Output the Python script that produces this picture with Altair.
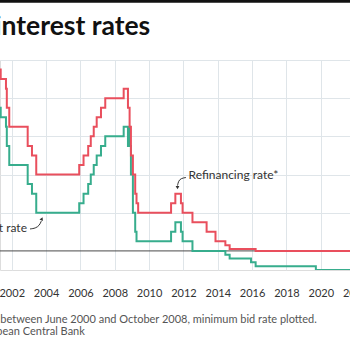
import altair as alt
import pandas as pd

# ECB policy rate changes (date, main refinancing / min bid rate, deposit facility rate)
dates = [
    "1999-01-01", "1999-04-09", "1999-11-05", "2000-02-04", "2000-03-17", "2000-04-28",
    "2000-06-09", "2000-09-01", "2000-10-06", "2001-05-11", "2001-08-31", "2001-09-18",
    "2001-11-09", "2002-12-06", "2003-03-07", "2003-06-06", "2005-12-06", "2006-03-08",
    "2006-06-15", "2006-08-09", "2006-10-11", "2006-12-13", "2007-03-14", "2007-06-13",
    "2008-07-09", "2008-10-08", "2008-10-09", "2008-11-12", "2008-12-10", "2009-01-21",
    "2009-03-11", "2009-04-08", "2009-05-13", "2011-04-13", "2011-07-13", "2011-11-09",
    "2011-12-14", "2012-07-11", "2013-05-08", "2013-11-13", "2014-06-11", "2014-09-10",
    "2015-12-09", "2016-03-16", "2019-09-18", "2022-07-27", "2022-09-14",
]
refi = [
    3.00, 2.50, 3.00, 3.25, 3.50, 3.75,
    4.25, 4.50, 4.75, 4.50, 4.25, 3.75,
    3.25, 2.75, 2.50, 2.00, 2.25, 2.50,
    2.75, 3.00, 3.25, 3.50, 3.75, 4.00,
    4.25, 3.75, 3.75, 3.25, 2.50, 2.00,
    1.50, 1.25, 1.00, 1.25, 1.50, 1.25,
    1.00, 0.75, 0.50, 0.25, 0.15, 0.05,
    0.05, 0.00, 0.00, 0.50, 1.25,
]
deposit = [
    2.00, 1.50, 2.00, 2.25, 2.50, 2.75,
    3.25, 3.50, 3.75, 3.50, 3.25, 2.75,
    2.25, 1.75, 1.50, 1.00, 1.25, 1.50,
    1.75, 2.00, 2.25, 2.50, 2.75, 3.00,
    3.25, 2.75, 3.25, 2.75, 2.00, 1.00,
    0.50, 0.25, 0.25, 0.50, 0.75, 0.50,
    0.25, 0.00, 0.00, 0.00, -0.10, -0.20,
    -0.30, -0.40, -0.50, 0.00, 0.75,
]
series_names = ["Deposit rate", "Refinancing rate*"]
series_colors = ["#37ad8d", "#e94f5d"]
tick_years = [2002, 2004, 2006, 2008, 2010, 2012, 2014, 2016, 2018, 2020, 2022]
y_grid = [1, 2, 3, 4, 5]

# annotation labels and arrow paths (data coordinates)
label_text = ["Refinancing rate*", "Deposit rate"]
label_date = ["2012-04-18", "2002-11-21"]
label_value = [1.99, 0.59]
label_align = ["left", "right"]

refi_arrow_dates = ["2012-02-25", "2011-11-10", "2011-09-18", "2011-08-28"]
refi_arrow_vals = [1.922, 1.901, 1.830, 1.712]
dep_arrow_dates = ["2003-01-25", "2003-05-21", "2003-08-14", "2003-09-22"]
dep_arrow_vals = [0.575, 0.593, 0.667, 0.784]
head_dates = ["2011-08-28", "2003-10-04"]
head_vals = [1.66, 0.84]
head_shapes = ["triangle-down", "triangle-up"]
head_angles = [0, 25]

title_text = "ECB interest rates"
note_lines = [
    "*Fixed rate; between June 2000 and October 2008, minimum bid rate plotted.",
    "Source: European Central Bank",
]

FONT = "Lato"

df = pd.concat([
    pd.DataFrame({"date": dates, "value": deposit, "series": series_names[0]}),
    pd.DataFrame({"date": dates, "value": refi, "series": series_names[1]}),
])

x_scale = alt.Scale(
    type="utc",
    domain=[alt.DateTime(year=2001, month=4, date=26, utc=True),
            alt.DateTime(year=2022, month=4, date=14, utc=True)],
    range=[0, 360],
)
y_scale = alt.Scale(domain=[-0.5, 5], nice=False, zero=False)

x_axis = alt.Axis(
    title=None,
    values=[alt.DateTime(year=y, month=1, date=1, utc=True) for y in tick_years],
    format="%Y",
    grid=True,
    gridColor="#dfe5e9",
    ticks=False,
    tickSize=0,
    domain=False,
    labelFont=FONT,
    labelFontSize=11,
    labelColor="#333333",
    labelPadding=17,
    labelOverlap=False,
    labelSeparation=0,
)
y_axis = alt.Axis(
    title=None,
    values=y_grid,
    grid=True,
    gridColor="#dfe5e9",
    labels=False,
    ticks=False,
    domain=False,
)

lines = alt.Chart(df).mark_line(interpolate="step-after", strokeWidth=2, clip=True).encode(
    x=alt.X("date:T", scale=x_scale, axis=x_axis),
    y=alt.Y("value:Q", scale=y_scale, axis=y_axis),
    color=alt.Color("series:N", scale=alt.Scale(domain=series_names, range=series_colors), legend=None),
)

zero = alt.Chart(pd.DataFrame({"value": [0]})).mark_rule(color="#4a4a4a", strokeWidth=1).encode(
    y=alt.Y("value:Q", axis=y_axis)
)

arrow_df = pd.concat([
    pd.DataFrame({"date": refi_arrow_dates, "value": refi_arrow_vals, "arrow": "refi",
                  "order": list(range(len(refi_arrow_dates)))}),
    pd.DataFrame({"date": dep_arrow_dates, "value": dep_arrow_vals, "arrow": "dep",
                  "order": list(range(len(dep_arrow_dates)))}),
])
arrows = alt.Chart(arrow_df).mark_line(interpolate="basis", color="#333333", strokeWidth=1).encode(
    x=alt.X("date:T", axis=x_axis), y=alt.Y("value:Q", axis=y_axis), detail="arrow:N", order="order:Q"
)
heads_df = pd.DataFrame({"date": head_dates, "value": head_vals, "shape": head_shapes, "angle": head_angles})
heads = alt.Chart(heads_df).mark_point(filled=True, size=14, color="#333333", opacity=1).encode(
    x=alt.X("date:T", axis=x_axis), y=alt.Y("value:Q", axis=y_axis),
    shape=alt.Shape("shape:N", scale=None),
    angle=alt.Angle("angle:Q", scale=None),
)

labels_df = pd.DataFrame({"date": label_date, "value": label_value, "text": label_text, "align": label_align})
label_left = alt.Chart(labels_df[labels_df["align"] == "left"]).mark_text(
    align="left", baseline="middle", font=FONT, fontSize=12, color="#333333"
).encode(x=alt.X("date:T", axis=x_axis), y=alt.Y("value:Q", axis=y_axis), text="text:N")
label_right = alt.Chart(labels_df[labels_df["align"] == "right"]).mark_text(
    align="right", baseline="middle", font=FONT, fontSize=12, color="#333333"
).encode(x=alt.X("date:T", axis=x_axis), y=alt.Y("value:Q", axis=y_axis), text="text:N")

top_bar = alt.Chart(pd.DataFrame({"k": [0]})).mark_rule(color="#111111", strokeWidth=2.7).encode(
    x=alt.value(-20), x2=alt.value(380), y=alt.value(-58.6)
)
title = alt.Chart(pd.DataFrame({"t": [title_text]})).mark_text(
    align="left", baseline="alphabetic", font=FONT, fontSize=26.5, fontWeight="bold", color="#111111"
).encode(x=alt.value(-61.5), y=alt.value(-25), text="t:N")
note_df = pd.DataFrame({"t": note_lines, "row": [0, 1]})
note1 = alt.Chart(note_df.iloc[[0]]).mark_text(
    align="left", baseline="middle", font=FONT, fontSize=11, color="#555555"
).encode(x=alt.value(-58), y=alt.value(260), text="t:N")
note2 = alt.Chart(note_df.iloc[[1]]).mark_text(
    align="left", baseline="middle", font=FONT, fontSize=11, color="#555555"
).encode(x=alt.value(-64.5), y=alt.value(271.5), text="t:N")

chart = alt.layer(
    zero, lines, arrows, heads, label_left, label_right, top_bar, title, note1, note2
).properties(
    width=350,
    height=210,
    padding={"left": 0, "top": 60, "right": 0, "bottom": 80},
    autosize=alt.AutoSizeParams(type="none"),
).configure_view(stroke=None).configure_axis(labelOverlap=False).configure(background="white")

chart.save("out.html", embed_options={"renderer": "svg", "actions": False})
